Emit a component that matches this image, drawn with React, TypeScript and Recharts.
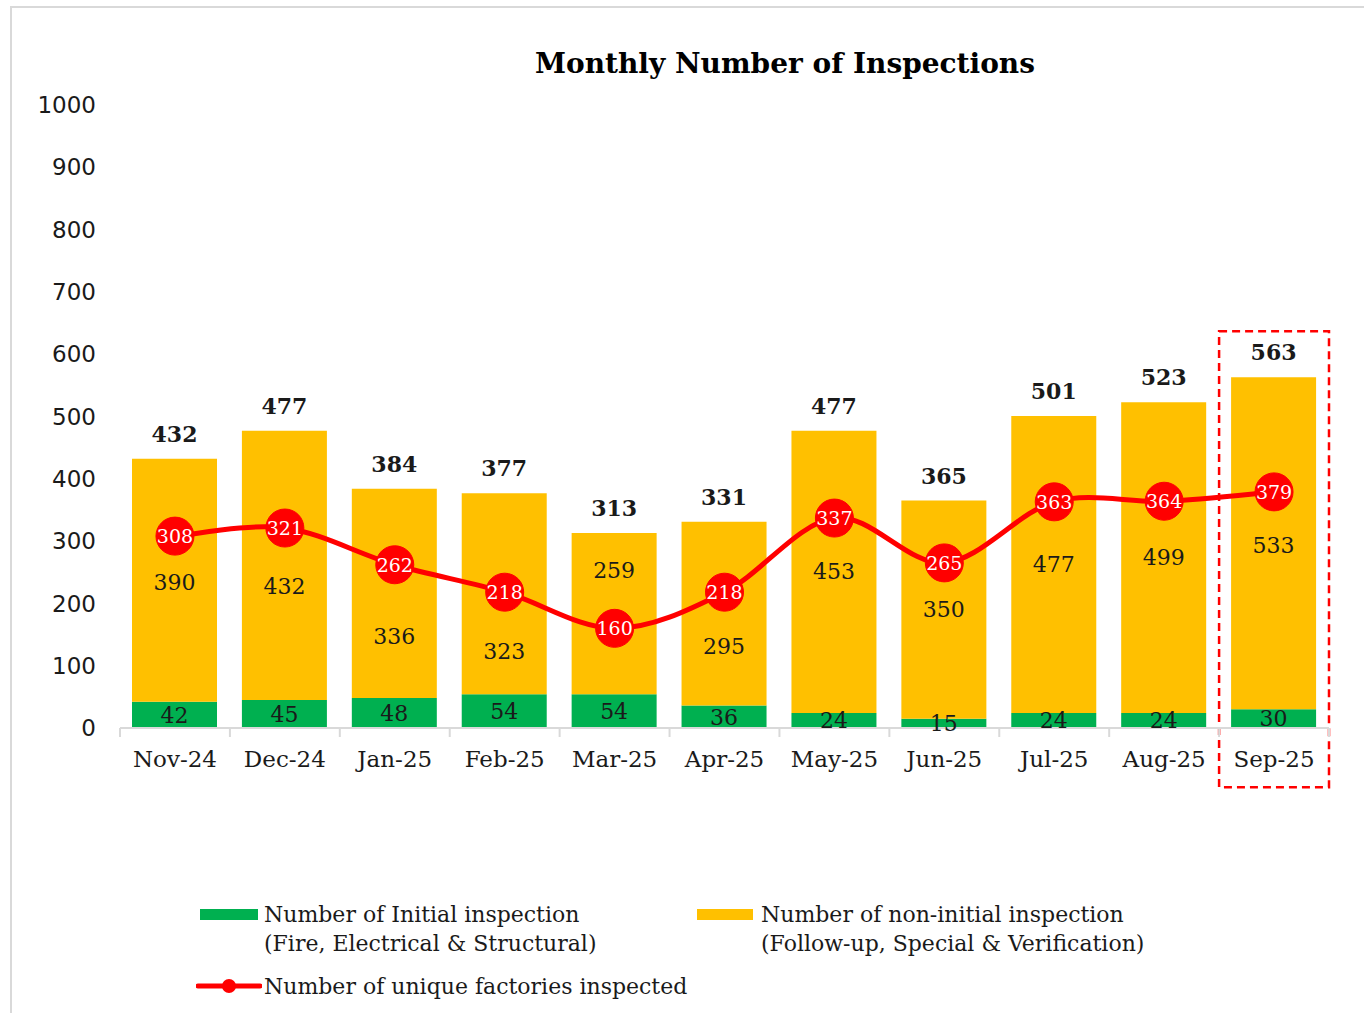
import React from "react";
import {
  ComposedChart,
  Bar,
  Line,
  XAxis,
  YAxis,
  LabelList,
  ReferenceArea,
} from "recharts";

const months = ["Nov-24", "Dec-24", "Jan-25", "Feb-25", "Mar-25", "Apr-25", "May-25", "Jun-25", "Jul-25", "Aug-25", "Sep-25"];
const initialInspections = [42, 45, 48, 54, 54, 36, 24, 15, 24, 24, 30];
const nonInitialInspections = [390, 432, 336, 323, 259, 295, 453, 350, 477, 499, 533];
const uniqueFactories = [308, 321, 262, 218, 160, 218, 337, 265, 363, 364, 379];
const yTicks = [0, 100, 200, 300, 400, 500, 600, 700, 800, 900, 1000];

const data = months.map((month, i) => ({
  month,
  initial: initialInspections[i],
  nonInitial: nonInitialInspections[i],
  total: initialInspections[i] + nonInitialInspections[i],
  factories: uniqueFactories[i],
}));

const GREEN = "#00B050";
const YELLOW = "#FFC000";
const RED = "#FF0000";
const SERIF = "'DejaVu Serif', serif";
const TEXT = "#1a1a1a";

const CHART_W = 1364;
const MARGIN = { top: 105, right: 35, left: 20, bottom: 32 };
const Y_AXIS_W = 100;
const PLOT_W = CHART_W - MARGIN.left - MARGIN.right - Y_AXIS_W;
const BAND = PLOT_W / months.length;

// the yellow labels were nudged by hand in the original so they clear the red dots
const nudge: Record<string, number> = {
  "Nov-24": 2,
  "Dec-24": 21,
  "Jan-25": 43,
  "Feb-25": 58,
  "Mar-25": -43,
  "Apr-25": 33,
  "Sep-25": 2,
};

// excel-ish smoothed line (catmull-rom)
const smooth = (context: any) => {
  let pts: number[][] = [];
  return {
    areaStart() {},
    areaEnd() {},
    lineStart() {
      pts = [];
    },
    point(x: number, y: number) {
      pts.push([+x, +y]);
    },
    lineEnd() {
      if (!pts.length) return;
      context.moveTo(pts[0][0], pts[0][1]);
      for (let i = 0; i < pts.length - 1; i++) {
        const p0 = pts[i - 1] || pts[i];
        const p1 = pts[i];
        const p2 = pts[i + 1];
        const p3 = pts[i + 2] || p2;
        context.bezierCurveTo(
          p1[0] + (p2[0] - p0[0]) / 6,
          p1[1] + (p2[1] - p0[1]) / 6,
          p2[0] - (p3[0] - p1[0]) / 6,
          p2[1] - (p3[1] - p1[1]) / 6,
          p2[0],
          p2[1]
        );
      }
    },
  };
};

const XTick = (props: any) => {
  const { x, y, payload, index } = props;
  const axisY = y - 8;
  return (
    <g>
      <line x1={x - BAND / 2} x2={x - BAND / 2} y1={axisY} y2={axisY + 9} stroke="#d9d9d9" strokeWidth={2} />
      {index === months.length - 1 && (
        <line x1={x + BAND / 2} x2={x + BAND / 2} y1={axisY} y2={axisY + 9} stroke="#d9d9d9" strokeWidth={2} />
      )}
      <text x={x} y={axisY + 31} textAnchor="middle" dominantBaseline="central" fontFamily={SERIF} fontSize={23} fill={TEXT}>
        {payload.value}
      </text>
    </g>
  );
};

const SegLabel = (props: any) => {
  const { x, y, width, height, value, index } = props;
  const dy = nudge[months[index]] || 0;
  return (
    <text x={x + width / 2} y={y + height / 2 + dy} textAnchor="middle" dominantBaseline="central" fontFamily={SERIF} fontSize={22} fill={TEXT}>
      {value}
    </text>
  );
};

const TotalLabel = (props: any) => {
  const { x, y, width, value } = props;
  return (
    <text x={x + width / 2} y={y - 25} textAnchor="middle" dominantBaseline="central" fontFamily={SERIF} fontWeight="bold" fontSize={22} fill={TEXT}>
      {value}
    </text>
  );
};

const DotLabel = (props: any) => {
  const { x, y, value } = props;
  return (
    <text x={x} y={y} textAnchor="middle" dominantBaseline="central" fontFamily={SERIF} fontSize={19} fill="#ffffff">
      {value}
    </text>
  );
};

const legendText: React.CSSProperties = {
  position: "absolute",
  fontFamily: SERIF,
  fontSize: 22,
  lineHeight: "29px",
  color: TEXT,
  whiteSpace: "nowrap",
};

export default function App() {
  return (
    <div style={{ position: "absolute", left: 0, top: 0, width: 1364, height: 1013, background: "#fff", overflow: "hidden" }}>
      <div style={{ position: "absolute", left: 10, top: 6, width: 1400, height: 1100, borderLeft: "2px solid #d9d9d9", borderTop: "2px solid #d9d9d9" }} />
      <div
        style={{
          position: "absolute",
          left: 785,
          top: 49,
          transform: "translateX(-50%)",
          fontFamily: SERIF,
          fontWeight: "bold",
          fontSize: 28,
          lineHeight: "30px",
          color: "#000",
          whiteSpace: "nowrap",
        }}
      >
        Monthly Number of Inspections
      </div>
      <div style={{ position: "absolute", left: 0, top: 0 }}>
        <ComposedChart width={CHART_W} height={800} data={data} margin={MARGIN}>
          <XAxis dataKey="month" interval={0} height={40} axisLine={{ stroke: "#d9d9d9", strokeWidth: 2 }} tickLine={false} tick={<XTick />} />
          <YAxis
            width={Y_AXIS_W}
            domain={[0, 1000]}
            ticks={yTicks}
            interval={0}
            axisLine={false}
            tickLine={false}
            tickSize={0}
            tickMargin={24}
            tick={{ fontFamily: "'DejaVu Sans', sans-serif", fontSize: 23, fill: TEXT }}
          />
          <Bar dataKey="initial" stackId="a" fill={GREEN} barSize={85} isAnimationActive={false}>
            <LabelList dataKey="initial" position="center" fontFamily={SERIF} fontSize={22} fill={TEXT} />
          </Bar>
          <Bar dataKey="nonInitial" stackId="a" fill={YELLOW} barSize={85} isAnimationActive={false}>
            <LabelList dataKey="nonInitial" content={<SegLabel />} />
            <LabelList dataKey="total" content={<TotalLabel />} />
          </Bar>
          <Line
            type={smooth as any}
            dataKey="factories"
            stroke={RED}
            strokeWidth={5}
            dot={{ r: 19, fill: RED, stroke: RED, strokeWidth: 1 }}
            activeDot={false}
            isAnimationActive={false}
          >
            <LabelList dataKey="factories" content={<DotLabel />} />
          </Line>
          <ReferenceArea
            x1="Sep-25"
            x2="Sep-25"
            y1={-95}
            y2={637}
            ifOverflow="visible"
            fill="none"
            fillOpacity={0}
            stroke={RED}
            strokeWidth={2.5}
            strokeDasharray="8 5"
          />
        </ComposedChart>
      </div>

      <div style={{ position: "absolute", left: 200, top: 909, width: 58, height: 11, background: GREEN }} />
      <div style={{ ...legendText, left: 264, top: 900 }}>
        Number of Initial inspection
        <br />
        (Fire, Electrical &amp; Structural)
      </div>
      <div style={{ position: "absolute", left: 697, top: 909, width: 56, height: 11, background: YELLOW }} />
      <div style={{ ...legendText, left: 761, top: 900 }}>
        Number of non-initial inspection
        <br />
        (Follow-up, Special &amp; Verification)
      </div>
      <svg style={{ position: "absolute", left: 196, top: 976 }} width={66} height={20}>
        <line x1={2} x2={64} y1={10} y2={10} stroke={RED} strokeWidth={5} strokeLinecap="round" />
        <circle cx={33} cy={10} r={7} fill={RED} />
      </svg>
      <div style={{ ...legendText, left: 264, top: 972 }}>Number of unique factories inspected</div>
    </div>
  );
}
